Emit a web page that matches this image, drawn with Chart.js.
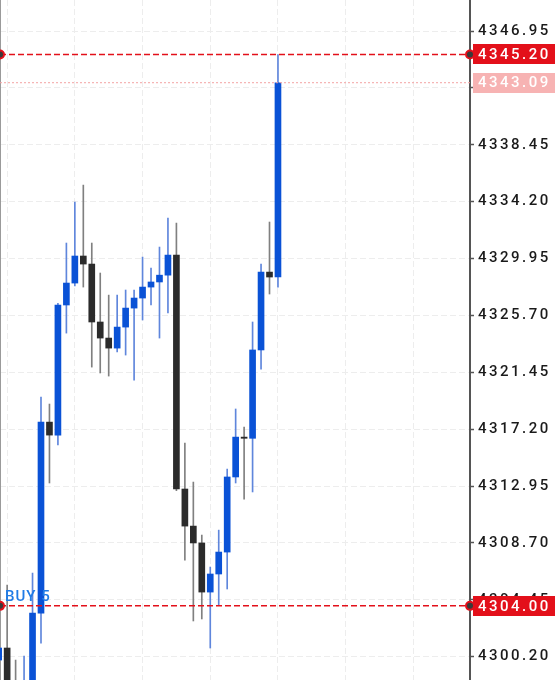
<!DOCTYPE html>
<html lang="en">
<head>
    <meta charset="UTF-8">
    <title>XAU M1 chart</title>
    <script src="https://cdn.jsdelivr.net/npm/chart.js"></script>
    <style>
        html, body { margin: 0; padding: 0; background: #fff; overflow: hidden; }
        canvas { display: block; }
    </style>
</head>
<body>
    <canvas id="chart" width="555" height="680"></canvas>

    <script>
        // candle data (index 0 = leftmost, partly cut off)
        const opens  = [4299.95, 4300.85, 4297.80, 4297.10, 4297.60, 4303.46, 4317.73, 4316.76, 4326.48, 4328.12,
                        4330.14, 4329.54, 4325.21, 4324.01, 4323.26, 4324.83, 4326.25, 4327.00, 4327.82, 4328.20,
                        4328.71, 4330.21, 4312.73, 4309.96, 4308.70, 4305.03, 4306.38, 4308.02, 4313.63, 4316.61,
                        4316.52, 4323.12, 4328.94, 4328.57];
        const highs  = [4301.00, 4305.56, 4299.95, 4300.25, 4306.45, 4319.60, 4319.08, 4326.60, 4331.11, 4334.17,
                        4335.44, 4331.11, 4328.87, 4327.22, 4327.22, 4327.60, 4327.60, 4330.06, 4329.24, 4330.81,
                        4332.98, 4332.60, 4316.17, 4313.25, 4309.29, 4306.90, 4309.66, 4314.22, 4318.71, 4317.36,
                        4325.21, 4329.54, 4332.68, 4345.20];
        const lows   = [4297.20, 4296.90, 4296.40, 4296.60, 4297.20, 4301.22, 4313.18, 4316.02, 4324.38, 4327.90,
                        4327.82, 4321.84, 4321.40, 4321.17, 4322.97, 4322.74, 4320.87, 4325.36, 4326.48, 4324.01,
                        4325.88, 4312.60, 4307.42, 4302.87, 4303.02, 4300.85, 4304.06, 4305.26, 4313.18, 4311.98,
                        4312.51, 4321.69, 4327.30, 4327.82];
        const closes = [4300.85, 4297.80, 4297.10, 4297.60, 4303.46, 4317.73, 4316.76, 4326.48, 4328.12, 4330.14,
                        4329.54, 4325.21, 4324.01, 4323.26, 4324.83, 4326.25, 4327.00, 4327.82, 4328.20, 4328.71,
                        4330.21, 4312.73, 4309.96, 4308.70, 4305.03, 4306.38, 4308.02, 4313.63, 4316.61, 4316.52,
                        4323.12, 4328.94, 4328.57, 4343.09];

        const priceTicks = [4300.20, 4304.45, 4308.70, 4312.95, 4317.20, 4321.45, 4325.70, 4329.95, 4334.20, 4338.45, 4342.70, 4346.95];
        const timeGrid = [1, 9, 17, 25, 33, 41, 49];

        const levelPrices = [4345.20, 4304.00];
        const lastPrice = 4343.09;
        const orderLabel = 'BUY 5';

        // visible window
        const xMin = 0.156, xMax = 55.69;
        const yMin = 4298.46, yMax = 4349.27;

        const UP = '#0a52d6', DOWN = '#2b2b2b';
        const RED = '#e3101a', PINK = '#f7b3b3';
        const FONT = 'Roboto, Liberation Sans, Arial, sans-serif';

        const idx = opens.map((_, i) => i);
        const isUp = idx.map(i => closes[i] >= opens[i]);

        const levelSets = levelPrices.map(p => ({
            type: 'line',
            data: [{ x: xMin, y: p }, { x: xMax, y: p }],
            borderColor: RED,
            borderWidth: 1.5,
            borderDash: [6, 3],
            pointRadius: 4,
            pointBackgroundColor: '#3a3a3a',
            pointBorderColor: RED,
            pointBorderWidth: 2,
            clip: false,
            order: 0
        }));

        const lastSet = {
            type: 'line',
            data: [{ x: xMin, y: lastPrice }, { x: xMax, y: lastPrice }],
            borderColor: '#f3a3a3',
            borderWidth: 1,
            borderDash: [2, 2],
            pointRadius: 0,
            order: 0
        };

        const noPad = s => { s.paddingTop = 0; s.paddingBottom = 0; s.paddingLeft = 0; s.paddingRight = 0; };

        const labelsPlugin = {
            id: 'tradeLabels',
            beforeDraw(chart) {
                chart.ctx.letterSpacing = '2.5px';
            },
            beforeDatasetsDraw(chart) {
                const { ctx, chartArea } = chart;
                ctx.save();
                ctx.strokeStyle = '#9a9a9a';
                ctx.lineWidth = 1;
                ctx.beginPath();
                ctx.moveTo(chartArea.left + 0.5, chartArea.top);
                ctx.lineTo(chartArea.left + 0.5, chartArea.bottom);
                ctx.stroke();
                ctx.restore();
            },
            afterDraw(chart) {
                const { ctx, chartArea } = chart;
                const y = chart.scales.y;
                const box = (price, fill) => {
                    const py = y.getPixelForValue(price);
                    ctx.fillStyle = fill;
                    ctx.fillRect(chartArea.right + 3, Math.round(py) - 10, chart.width - chartArea.right - 3, 20);
                    ctx.fillStyle = '#fff';
                    ctx.font = '500 15px ' + FONT;
                    ctx.textBaseline = 'middle';
                    ctx.textAlign = 'left';
                    ctx.fillText(price.toFixed(2), chartArea.right + 8, py + 1);
                };
                ctx.save();
                ctx.letterSpacing = '2.5px';
                box(lastPrice, PINK);
                levelPrices.forEach(p => box(p, RED));
                // order label over the buy level
                const by = y.getPixelForValue(levelPrices[1]);
                ctx.letterSpacing = '1px';
                ctx.fillStyle = '#1f7be6';
                ctx.font = '500 15px ' + FONT;
                ctx.textBaseline = 'alphabetic';
                ctx.fillText(orderLabel, chartArea.left + 5, by - 5);
                ctx.restore();
            }
        };

        new Chart(document.getElementById('chart'), {
            type: 'bar',
            data: {
                datasets: [
                    ...levelSets,
                    lastSet,
                    {
                        label: 'body',
                        data: idx.map(i => ({ x: i, y: [opens[i], closes[i]] })),
                        backgroundColor: idx.map(i => isUp[i] ? UP : DOWN),
                        barThickness: 6,
                        grouped: false,
                        clip: 0,
                        order: 1
                    },
                    {
                        label: 'wick',
                        data: idx.map(i => ({ x: i, y: [lows[i], highs[i]] })),
                        backgroundColor: idx.map(i => isUp[i] ? '#5f86dc' : '#808080'),
                        barThickness: 1,
                        grouped: false,
                        clip: 0,
                        order: 2
                    }
                ]
            },
            options: {
                responsive: false,
                animation: false,
                devicePixelRatio: 1,
                layout: { padding: 0, autoPadding: false },
                plugins: { legend: { display: false }, tooltip: { enabled: false } },
                scales: {
                    x: {
                        type: 'linear',
                        min: xMin,
                        max: xMax,
                        offset: false,
                        afterBuildTicks: s => { s.ticks = timeGrid.map(v => ({ value: v })); },
                        afterFit: s => { s.height = 0; noPad(s); },
                        ticks: { display: false },
                        grid: { color: '#ededed', drawTicks: false, offset: false },
                        border: { display: false, dash: [6, 3] }
                    },
                    y: {
                        position: 'right',
                        min: yMin,
                        max: yMax,
                        afterBuildTicks: s => { s.ticks = priceTicks.map(v => ({ value: v })); },
                        afterFit: s => { s.width = 85; noPad(s); },
                        ticks: {
                            autoSkip: false,
                            padding: 4,
                            color: '#1a1a1a',
                            font: { family: FONT, size: 15, weight: '500' },
                            callback: v => Number(v).toFixed(2)
                        },
                        grid: { color: '#ededed', tickLength: 4, tickColor: '#555', tickWidth: 1.5 },
                        border: { color: '#555', width: 2, dash: [6, 3] }
                    }
                }
            },
            plugins: [labelsPlugin]
        });
    </script>
</body>
</html>
